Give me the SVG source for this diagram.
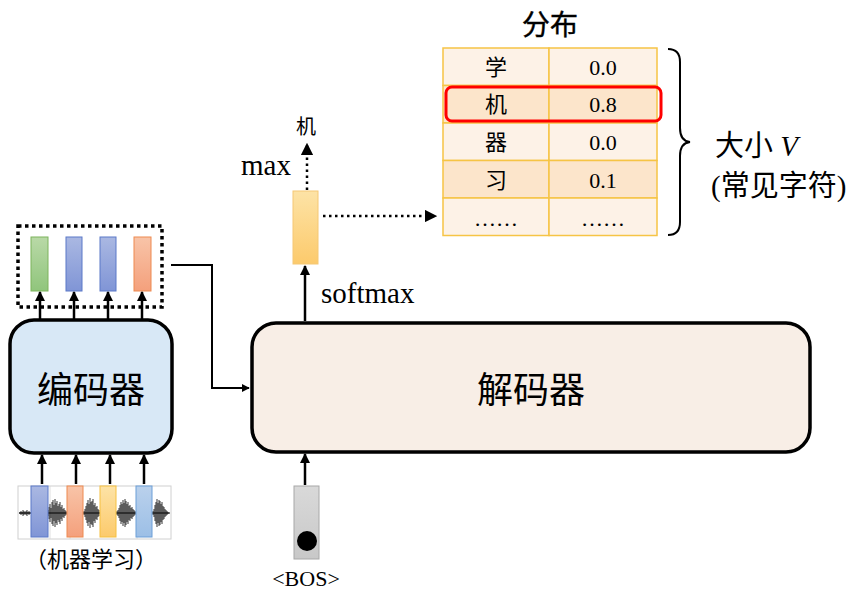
<svg xmlns="http://www.w3.org/2000/svg" width="861" height="591" viewBox="0 0 861 591">
<defs>
<marker id="ah" viewBox="0 0 10 10" refX="9" refY="5" markerWidth="4" markerHeight="4" orient="auto" markerUnits="strokeWidth">
<path d="M0,0 L10,5 L0,10 z" fill="#000"/>
</marker>
<marker id="ahs" viewBox="0 0 10 10" refX="9" refY="5" markerWidth="5" markerHeight="5" orient="auto" markerUnits="strokeWidth">
<path d="M0,0 L10,5 L0,10 z" fill="#000"/>
</marker>
<linearGradient id="gGreen" x1="0" y1="0" x2="0" y2="1"><stop offset="0" stop-color="#b9d9a7"/><stop offset="1" stop-color="#90c57c"/></linearGradient>
<linearGradient id="gBlue" x1="0" y1="0" x2="0" y2="1"><stop offset="0" stop-color="#aab8e2"/><stop offset="1" stop-color="#8095d6"/></linearGradient>
<linearGradient id="gOrange" x1="0" y1="0" x2="0" y2="1"><stop offset="0" stop-color="#f8c4a8"/><stop offset="1" stop-color="#f4a07c"/></linearGradient>
<linearGradient id="gYellow" x1="0" y1="0" x2="0" y2="1"><stop offset="0" stop-color="#fde3a6"/><stop offset="1" stop-color="#fcca6c"/></linearGradient>
<linearGradient id="gLBlue" x1="0" y1="0" x2="0" y2="1"><stop offset="0" stop-color="#bad1ec"/><stop offset="1" stop-color="#9cbfe6"/></linearGradient>
<linearGradient id="gGray" x1="0" y1="0" x2="0" y2="1"><stop offset="0" stop-color="#d9d9d9"/><stop offset="1" stop-color="#c8c8c8"/></linearGradient>
<style>
.serif{font-family:"Liberation Serif","Noto Sans CJK SC",serif;fill:#000}
.big{font-size:36px}
.arr{stroke:#000;stroke-width:2.5;fill:none;marker-end:url(#ah)}
.dot{stroke:#000;stroke-width:2.5;fill:none;stroke-dasharray:2.5 3.5;marker-end:url(#ahs)}
.box{stroke:#000;stroke-width:3.5}
.cell{stroke:#f6c445;stroke-width:1.5}
.light{fill:#fdf2e7}
.dark{fill:#fce5cb}
.tc{font-size:22px;text-anchor:middle}
</style>
</defs>

<!-- encoder outputs (dotted group) -->
<g id="encoder-outputs">
<rect x="18" y="226" width="144" height="81" fill="none" stroke="#000" stroke-width="3.5" stroke-dasharray="3.5 3.5"/>
<rect x="31" y="237" width="17" height="54" fill="url(#gGreen)" stroke="#7cb45c" stroke-width="1"/>
<rect x="66" y="237" width="16" height="54" fill="url(#gBlue)" stroke="#5b79c8" stroke-width="1"/>
<rect x="100" y="237" width="16" height="54" fill="url(#gBlue)" stroke="#5b79c8" stroke-width="1"/>
<rect x="134" y="237" width="17" height="54" fill="url(#gOrange)" stroke="#ee8a50" stroke-width="1"/>
</g>

<!-- encoder -->
<g id="encoder">
<rect x="10" y="320" width="162" height="133" rx="24" fill="#d8e8f6" class="box"/>
<text x="91" y="403" class="serif big" text-anchor="middle">编码器</text>
</g>

<!-- audio input -->
<g id="audio-input">
<rect x="18" y="486" width="153" height="53" fill="#fff" stroke="#d0d0d0" stroke-width="1"/>
<path d="M50 486V539M70 486V539M137 486V539" stroke="#d8d8d8" stroke-width="0.8"/>
<path d="M19 513H170" stroke="#000" stroke-width="1"/>
<path stroke="#000" stroke-width="0.8" d="M20 512V514M21 511V515M22 512V514M23 510V516M24 511V515M25 512V514M26 511V515M27 510V516M28 512V514M29 511V515M30 512V514
M48 510V516M49 507V519M50 504V522M51 508V518M52 502V524M53 500V526M54 505V521M55 499V527M56 503V523M57 501V525M58 506V520M59 504V522M60 502V524M61 507V519M62 505V521M63 509V517M64 508V518M65 510V516M66 511V515
M84 511V515M85 509V517M86 506V520M87 503V523M88 500V526M89 504V522M90 498V528M91 502V524M92 501V525M93 499V527M94 505V521M95 503V523M96 507V519M97 506V520M98 509V517M99 510V516
M117 511V515M118 510V516M119 508V518M120 505V521M121 502V524M122 504V522M123 500V526M124 503V523M125 499V527M126 501V525M127 504V522M128 502V524M129 506V520M130 505V521M131 508V518M132 507V519M133 509V517M134 510V516M135 511V515
M153 511V515M154 509V517M155 505V521M156 502V524M157 499V527M158 503V523M159 500V526M160 501V525M161 504V522M162 502V524M163 506V520M164 507V519M165 509V517M166 510V516M167 511V515M168 512V514"/>
<rect x="31" y="486" width="17" height="51" fill="url(#gBlue)" stroke="#5b79c8" stroke-width="1"/>
<rect x="67" y="486" width="16" height="51" fill="url(#gOrange)" stroke="#ee8a50" stroke-width="1"/>
<rect x="100" y="486" width="16" height="51" fill="url(#gYellow)" stroke="#f5c040" stroke-width="1"/>
<rect x="136" y="486" width="16" height="51" fill="url(#gLBlue)" stroke="#6d9fd8" stroke-width="1"/>
<text x="91" y="567" class="serif" font-size="22" text-anchor="middle">（机器学习）</text>
</g>

<!-- decoder -->
<g id="decoder">
<rect x="252" y="323" width="558" height="129" rx="24" fill="#f8eee6" class="box"/>
<text x="531" y="403" class="serif big" text-anchor="middle">解码器</text>
</g>

<!-- softmax output -->
<g id="softmax-output">
<rect x="293" y="191" width="25" height="73" fill="url(#gYellow)" stroke="#f5c875" stroke-width="1"/>
<text x="321" y="303" class="serif" font-size="29">softmax</text>
<text x="241" y="175" class="serif" font-size="29">max</text>
<text x="306" y="134" class="serif" font-size="20" text-anchor="middle">机</text>
</g>

<!-- BOS input -->
<g id="bos">
<rect x="294" y="486" width="25" height="73" fill="url(#gGray)" stroke="#a8a8a8" stroke-width="1"/>
<circle cx="307" cy="541" r="10" fill="#000"/>
<text x="306" y="586" class="serif" font-size="22" text-anchor="middle">&lt;BOS&gt;</text>
</g>

<!-- distribution table -->
<g id="distribution">
<text x="550" y="35" class="serif" font-size="28" text-anchor="middle" stroke="#000" stroke-width="0.4">分布</text>
<rect x="443" y="48" width="106" height="37.5" class="cell light"/>
<rect x="549" y="48" width="108" height="37.5" class="cell light"/>
<rect x="443" y="85.5" width="106" height="37.5" class="cell dark"/>
<rect x="549" y="85.5" width="108" height="37.5" class="cell dark"/>
<rect x="443" y="123" width="106" height="37.5" class="cell light"/>
<rect x="549" y="123" width="108" height="37.5" class="cell light"/>
<rect x="443" y="160.5" width="106" height="37.5" class="cell dark"/>
<rect x="549" y="160.5" width="108" height="37.5" class="cell dark"/>
<rect x="443" y="198" width="106" height="37.5" class="cell light"/>
<rect x="549" y="198" width="108" height="37.5" class="cell light"/>
<text x="496" y="75" class="serif tc">学</text><text x="603" y="75" class="serif tc">0.0</text>
<text x="496" y="112" class="serif tc">机</text><text x="603" y="112" class="serif tc">0.8</text>
<text x="496" y="150" class="serif tc">器</text><text x="603" y="150" class="serif tc">0.0</text>
<text x="496" y="188" class="serif tc">习</text><text x="603" y="188" class="serif tc">0.1</text>
<text x="496" y="226" class="serif tc">……</text><text x="603" y="226" class="serif tc">……</text>
<rect x="446" y="87" width="215" height="34" rx="6" fill="none" stroke="#ff0000" stroke-width="3"/>
<path d="M668 49 Q680 49 680 62 V128 Q680 141 690 142 Q680 143 680 156 V222 Q680 235 668 235" fill="none" stroke="#000" stroke-width="2"/>
<text x="715" y="156" class="serif" font-size="29">大小 <tspan font-style="italic">V</tspan></text>
<text x="711" y="196" class="serif" font-size="29">(常见字符)</text>
</g>

<!-- connectors -->
<g id="connectors">
<path class="arr" d="M40 320V292"/>
<path class="arr" d="M74 320V292"/>
<path class="arr" d="M108 320V292"/>
<path class="arr" d="M142 320V292"/>
<path class="arr" d="M42 484V455"/>
<path class="arr" d="M76 484V455"/>
<path class="arr" d="M110 484V455"/>
<path class="arr" d="M144 484V455"/>
<path d="M171 265H212V388H249" stroke="#000" stroke-width="2" fill="none" marker-end="url(#ah)"/>
<path class="arr" d="M305 321V266"/>
<path class="arr" d="M305 485V454"/>
<path class="dot" d="M307 190V144"/>
<path class="dot" d="M323 216H436"/>
</g>
</svg>
